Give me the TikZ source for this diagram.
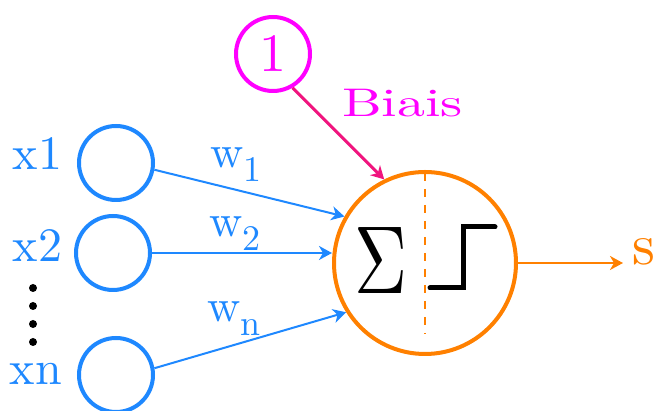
\documentclass[tikz,border=0pt]{standalone}
\usepackage[no-math]{fontspec}
\setmainfont{lmroman10-regular.otf}
\usepackage{graphicx}
\usetikzlibrary{arrows.meta,calc}
\definecolor{InputBlue}{HTML}{1E88FF}
\definecolor{NeuronOrange}{HTML}{FF8000}
\definecolor{BiasMagenta}{HTML}{FF00FF}
\definecolor{BiasPink}{HTML}{F0147E}
\newcommand{\wider}[1]{\scalebox{1.4}[1]{#1}}
\newcommand{\fsz}[1]{\fontsize{#1}{#1}\selectfont}
\newcommand{\wsub}[1]{w\raisebox{-14pt}{\fsz{36}#1}}

\begin{document}
\begin{tikzpicture}[x=1pt,y=1pt,>={Stealth[length=13pt,width=14pt,inset=4pt]},
  unit/.style={circle,draw,line width=4pt,minimum size=74pt,inner sep=0pt},
  lbl/.style={inner sep=0pt,outer sep=0pt},
  xlabel/.style={lbl,text=InputBlue,font=\fsz{48},anchor=base east},
  weight/.style={lbl,text=InputBlue,font=\fsz{46},anchor=base west}]
\useasboundingbox (0,0) rectangle (657,411);
% input units and bias
\node[unit,draw=InputBlue] (in1) at (116,248) {};\node[unit,draw=InputBlue] (in2) at (113,158) {};\node[unit,draw=InputBlue] (in3) at (116,36) {};
\node[unit,draw=BiasMagenta,text=BiasMagenta,font=\fsz{54}] (bias) at (273,357) {1};
\node[circle,draw=NeuronOrange,line width=4pt,minimum size=182pt] (neuron) at (425,148) {};
\node[xlabel] (lx1) at (62,241) {x1};\node[xlabel] (lx2) at (62,149) {x2};\node[xlabel] (lxn) at (62,26) {xn};
\foreach \y in {123,105,87,69} \fill (33,\y) circle (4pt);
\node[weight] (w1) at (210,243) {\wsub{1}};\node[weight] (w2) at (209,174) {\wsub{2}};\node[weight] (wn) at (207,89) {\wsub{n}};
\node[lbl,text=BiasMagenta,font=\fsz{40},anchor=base west] (lbias) at (342,294) {\wider{Biais}};
\node[lbl,text=NeuronOrange,font=\fsz{58},anchor=base west] (s) at (632,146) {s};
% sum and step inside the neuron
\node[lbl] (sum) at (381,151) {\scalebox{7.34}[9.66]{$\Sigma$}};
\draw[NeuronOrange,line width=2pt,dash pattern=on 8pt off 8pt,shorten <=3pt,shorten >=22pt] (neuron.north)--(neuron.south);
\draw[line width=5pt,line cap=round,shift={(neuron.center)}] (5,-25) -| (38,36) -- (70,36);
% connections
\draw[->,InputBlue,line width=2pt] (in1.-10)--(neuron.150);\draw[->,InputBlue,line width=2pt] (in2.east)--(in2.east -| neuron.west);\draw[->,InputBlue,line width=2pt] (in3.10)--(neuron.212);
\draw[->,BiasPink,line width=3pt] (bias.-60)--(neuron.116);
\draw[->,NeuronOrange,line width=2.5pt,shorten >=9pt] (neuron.east)--(neuron.east -| s.west);
\end{tikzpicture}
\end{document}
